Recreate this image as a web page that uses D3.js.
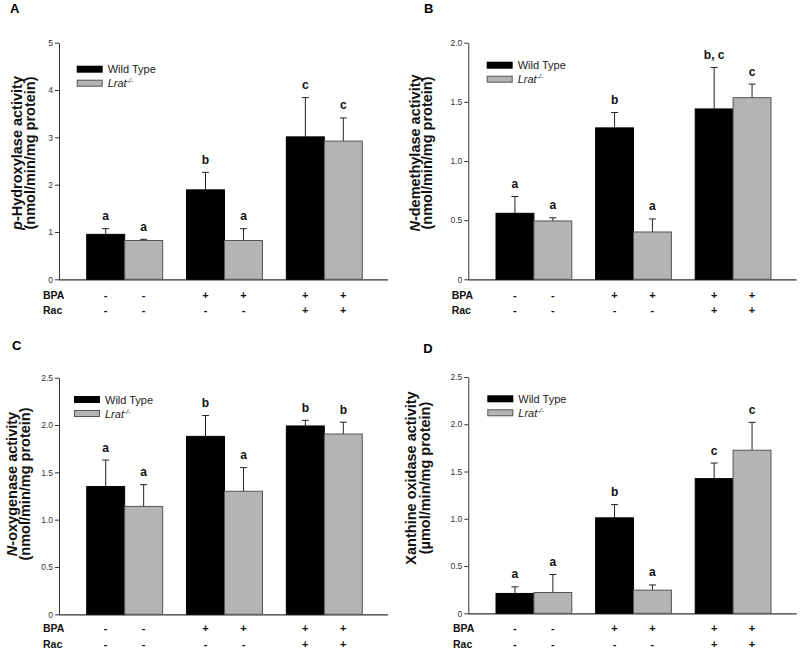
<!DOCTYPE html>
<html><head><meta charset="utf-8">
<script src="https://cdn.jsdelivr.net/npm/d3@7"></script>
<style>body{margin:0;background:#fff}svg{display:block;font-family:"Liberation Sans",Arial,sans-serif}</style>
</head><body><svg id="c" width="800" height="651"></svg>
<script>
const groups = ["g1","g2","g3"];
const series = ["Wild Type","Lrat"];
const bpaSigns = ["-","-","+","+","+","+"];
const racSigns = ["-","-","-","-","+","+"];

const aWT = [0.95, 1.89, 3.01], aWTerr = [1.07, 2.26, 3.84];
const aKO = [0.82, 0.82, 2.92], aKOerr = [0.845, 1.07, 3.41];
const aLetters = ["a","a","b","a","c","c"];
const aTicks = [0,1,2,3,4,5], aTickLabels = ["0","1","2","3","4","5"];

const bWT = [0.558, 1.28, 1.44], bWTerr = [0.70, 1.41, 1.79];
const bKO = [0.493, 0.40, 1.535], bKOerr = [0.52, 0.51, 1.65];
const bLetters = ["a","a","b","a","b, c","c"];
const bTicks = [0,0.5,1,1.5,2], bTickLabels = ["0","0.5","1.0","1.5","2.0"];

const cWT = [1.35, 1.88, 1.99], cWTerr = [1.63, 2.10, 2.05];
const cKO = [1.14, 1.30, 1.905], cKOerr = [1.37, 1.55, 2.03];
const cLetters = ["a","a","b","a","b","b"];
const cTicks = [0,0.5,1,1.5,2,2.5], cTickLabels = ["0","0.5","1.0","1.5","2.0","2.5"];

const dWT = [0.21, 1.01, 1.425], dWTerr = [0.28, 1.15, 1.59];
const dKO = [0.22, 0.245, 1.725], dKOerr = [0.41, 0.30, 2.02];
const dLetters = ["a","a","b","a","c","c"];
const dTicks = [0,0.5,1,1.5,2,2.5], dTickLabels = ["0","0.5","1.0","1.5","2.0","2.5"];

const svg = d3.select("#c");

const panels = [
  {id:"A", wt:aWT, wte:aWTerr, ko:aKO, koe:aKOerr, letters:aLetters, ticks:aTicks, tl:aTickLabels, max:5,
   ax:59, top:42.7, bot:279.3, xEnd:388, b0:86.7, b1:362.3, lx:10, ly:12.7,
   yl1:["p","-Hydroxylase activity"], yl2:"(nmol/min/mg protein)", ylx:22, ylx2:35, yly:153,
   leg:[76.7,65.7], rowX:43, rowY:[299,314]},
  {id:"B", wt:bWT, wte:bWTerr, ko:bKO, koe:bKOerr, letters:bLetters, ticks:bTicks, tl:bTickLabels, max:2,
   ax:468.3, top:42.7, bot:279.3, xEnd:796.7, b0:496, b1:771, lx:424, ly:12.7,
   yl1:["N","-demethylase activity"], yl2:"(nmol/min/mg protein)", ylx:420, ylx2:432, yly:153,
   leg:[486.7,61.7], rowX:451.7, rowY:[299,314]},
  {id:"C", wt:cWT, wte:cWTerr, ko:cKO, koe:cKOerr, letters:cLetters, ticks:cTicks, tl:cTickLabels, max:2.5,
   ax:59, top:377.7, bot:614.3, xEnd:388, b0:86.7, b1:362.3, lx:12, ly:350,
   yl1:["N","-oxygenase activity"], yl2:"(nmol/min/mg protein)", ylx:17, ylx2:30, yly:484,
   leg:[74,396], rowX:43, rowY:[632,648]},
  {id:"D", wt:dWT, wte:dWTerr, ko:dKO, koe:dKOerr, letters:dLetters, ticks:dTicks, tl:dTickLabels, max:2.5,
   ax:468.3, top:377, bot:613.3, xEnd:796.7, b0:496, b1:771, lx:423.3, ly:353,
   yl1:["","Xanthine oxidase activity"], yl2:"(µmol/min/mg protein)", ylx:416, ylx2:430, yly:478,
   leg:[487.3,395.3], rowX:453, rowY:[632,648]}
];

panels.forEach(p => {
  const g = svg.append("g");
  const y = d3.scaleLinear().domain([0, p.max]).range([p.bot, p.top]);
  const x = d3.scaleBand().domain(groups).range([p.b0, p.b1]).paddingInner(0.239).paddingOuter(0);
  const xs = d3.scaleBand().domain(series).range([0, x.bandwidth()]);

  g.append("text").attr("x", p.lx).attr("y", p.ly).attr("font-size", 13).attr("font-weight", "bold").text(p.id);

  const yAxis = d3.axisLeft(y).tickValues(p.ticks).tickFormat((d,i)=>p.tl[i]).tickSize(4).tickSizeOuter(0);
  const ya = g.append("g").attr("transform", `translate(${p.ax},0)`).call(yAxis);
  ya.select(".domain").attr("stroke", "#333");
  ya.selectAll(".tick line").attr("stroke", "#333");
  ya.selectAll(".tick text").attr("font-size", 8.5).attr("fill", "#333").attr("font-family", '"Liberation Sans",Arial,sans-serif').attr("x", -6);

  g.append("line").attr("x1", p.ax).attr("x2", p.xEnd).attr("y1", p.bot + 0.5).attr("y2", p.bot + 0.5).attr("stroke", "#333").attr("stroke-width", 1.2);

  const items = [];
  groups.forEach((gr, i) => {
    items.push({g:gr, s:"Wild Type", v:p.wt[i], e:p.wte[i]});
    items.push({g:gr, s:"Lrat", v:p.ko[i], e:p.koe[i]});
  });
  items.forEach((d, i) => { d.letter = p.letters[i]; d.cx = x(d.g) + xs(d.s) + xs.bandwidth()/2; });

  g.selectAll(".err").data(items).enter().append("line")
    .attr("x1", d => d.cx).attr("x2", d => d.cx).attr("y1", d => y(d.v)).attr("y2", d => y(d.e))
    .attr("stroke", "#222").attr("stroke-width", 1);
  g.selectAll(".cap").data(items).enter().append("line")
    .attr("x1", d => d.cx - 3.5).attr("x2", d => d.cx + 3.5).attr("y1", d => y(d.e)).attr("y2", d => y(d.e))
    .attr("stroke", "#222").attr("stroke-width", 1);

  g.selectAll(".bar").data(items).enter().append("rect")
    .attr("x", d => x(d.g) + xs(d.s)).attr("width", xs.bandwidth())
    .attr("y", d => y(d.v)).attr("height", d => y(0) - y(d.v))
    .attr("fill", d => d.s === "Wild Type" ? "#000" : "#b4b4b4")
    .attr("stroke", d => d.s === "Wild Type" ? "#000" : "#555").attr("stroke-width", 1);

  g.selectAll(".let").data(items).enter().append("text")
    .attr("x", d => d.cx).attr("y", d => y(d.e) - 8.5).attr("text-anchor", "middle")
    .attr("font-size", 12).attr("font-weight", "bold").attr("fill", "#111").text(d => d.letter);

  const [lx, ly] = p.leg;
  g.append("rect").attr("x", lx).attr("y", ly).attr("width", 26).attr("height", 7).attr("fill", "#000");
  g.append("rect").attr("x", lx + 0.5).attr("y", ly + 14.5).attr("width", 25).attr("height", 6).attr("fill", "#b4b4b4").attr("stroke", "#555");
  g.append("text").attr("x", lx + 31).attr("y", ly + 7.5).attr("font-size", 11).attr("fill", "#222").text("Wild Type");
  const lt = g.append("text").attr("x", lx + 31).attr("y", ly + 21.5).attr("font-size", 11).attr("fill", "#222").attr("font-style", "italic");
  lt.append("tspan").text("Lrat");
  lt.append("tspan").attr("font-size", 7).attr("dy", -4).text("-/-");

  const yl = g.append("g").attr("transform", `translate(${p.ylx},${p.yly}) rotate(-90)`);
  const t1 = yl.append("text").attr("text-anchor", "middle").attr("font-size", 14.5).attr("font-weight", "bold").attr("fill", "#111");
  if (p.yl1[0]) t1.append("tspan").attr("font-style", "italic").text(p.yl1[0]);
  t1.append("tspan").text(p.yl1[1]);
  yl.append("text").attr("y", p.ylx2 - p.ylx).attr("text-anchor", "middle").attr("font-size", 14.5).attr("font-weight", "bold").attr("fill", "#111").text(p.yl2);

  g.append("text").attr("x", p.rowX).attr("y", p.rowY[0]).attr("font-size", 10.5).attr("font-weight", "bold").attr("fill", "#111").text("BPA");
  g.append("text").attr("x", p.rowX).attr("y", p.rowY[1]).attr("font-size", 10.5).attr("font-weight", "bold").attr("fill", "#111").text("Rac");
  g.selectAll(".bpa").data(items).enter().append("text")
    .attr("x", d => d.cx).attr("y", p.rowY[0]).attr("text-anchor", "middle").attr("font-size", 11).attr("font-weight", "bold").attr("fill", "#111")
    .text((d, i) => bpaSigns[i]);
  g.selectAll(".rac").data(items).enter().append("text")
    .attr("x", d => d.cx).attr("y", p.rowY[1]).attr("text-anchor", "middle").attr("font-size", 11).attr("font-weight", "bold").attr("fill", "#111")
    .text((d, i) => racSigns[i]);
});
</script></body></html>
